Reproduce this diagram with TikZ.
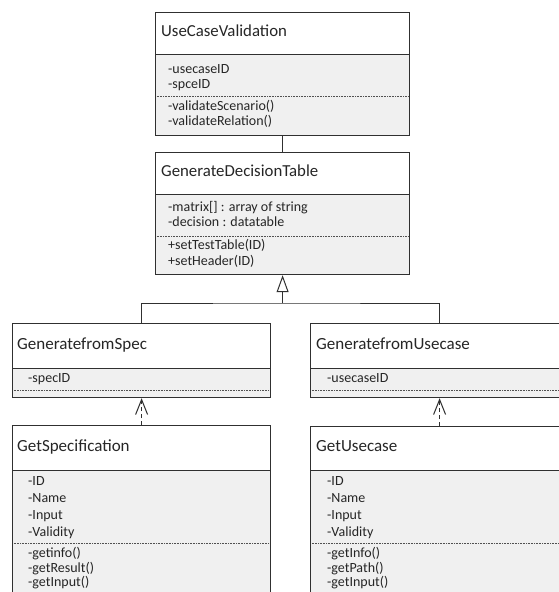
\documentclass[tikz,border=0pt]{standalone}
\usepackage{fontspec}
\setmainfont{Carlito}
\usetikzlibrary{arrows.meta}
\definecolor{linec}{HTML}{303030}
\definecolor{bodyc}{HTML}{F0F0F0}
\definecolor{dotc}{HTML}{505050}
% #1 name, #2 x1, #3 y1, #4 x2, #5 y2, #6 header y, #7 dotted y
\newcommand\umlbox[7]{%
  \fill[white] (#2,#3) rectangle (#4,#6);
  \fill[bodyc] (#2,#6) rectangle (#4,#5);
  \draw[hdrline] (#2,#6) -- (#4,#6);
  \draw[dotline] (#2,#7) -- (#4,#7);
  \node[classbox, minimum width={#4pt-#2pt}, minimum height={#5pt-#3pt}] (#1) at (#2,#3) {};
}
\begin{document}
\begin{tikzpicture}[x=1pt,y=-1pt,
  classbox/.style={draw=linec, line width=1.2pt, rectangle, inner sep=0pt, anchor=north west},
  hdrline/.style={draw=linec, line width=1pt},
  dotline/.style={draw=dotc, line width=0.6pt, dash pattern=on 1pt off 0.6pt},
  ttlA/.style={anchor=west, inner sep=0pt, font=\fontsize{16.8}{18}\selectfont, text height=0.8em, text depth=0.16em, text=black!85},
  memA/.style={anchor=west, inner sep=0pt, font=\fontsize{14}{16}\selectfont, text height=0.8em, text depth=0.16em, text=black!85},
  ttlB/.style={anchor=west, inner sep=0pt, font=\fontsize{17}{19}\selectfont, text height=0.8em, text depth=0.16em, text=black!85},
  memB/.style={anchor=west, inner sep=0pt, font=\fontsize{14}{16}\selectfont, text height=0.8em, text depth=0.16em, text=black!85},
  conn/.style={draw=linec, line width=1pt},
  dep/.style={draw=linec, line width=1pt, dash pattern=on 4pt off 3pt, -{Straight Barb[length=15pt,width=12pt,line width=1pt]}},
  gen/.style={draw=linec, line width=1pt, -{Triangle[open,length=17pt,width=12pt,line width=1pt,fill=white]}}
]
\useasboundingbox[fill=white] (0,0) rectangle (558,592);

% UseCaseValidation
\umlbox{ucv}{155}{12}{409}{135}{54}{96}
\node[ttlA] (ucvT) at (161,33) {UseCaseValidation};
\node[memA] (ucv1) at (168,70) {-usecaseID};
\node[memA] (ucv2) at (168,85) {-spceID};
\node[memA] (ucv3) at (168,107) {-validateScenario()};
\node[memA] (ucv4) at (168,122) {-validateRelation()};

% GenerateDecisionTable
\umlbox{gdt}{155}{152}{409}{274}{194}{236}
\node[ttlA] (gdtT) at (161,173) {GenerateDecisionTable};
\node[memA] (gdt1) at (168,208) {-matrix[] : array of string};
\node[memA] (gdt2) at (168,223) {-decision : datatable};
\node[memA] (gdt3) at (168,246) {+setTestTable(ID)};
\node[memA] (gdt4) at (168,262) {+setHeader(ID)};

% GeneratefromSpec
\umlbox{gfs}{12}{323}{270}{397}{368}{390}
\node[ttlB] (gfsT) at (17,346) {GeneratefromSpec};
\node[memB] (gfs1) at (28,379) {-specID};

% GeneratefromUsecase
\umlbox{gfu}{310}{323}{568}{397}{368}{390}
\node[ttlB] (gfuT) at (316,346) {GeneratefromUsecase};
\node[memB] (gfu1) at (327,379) {-usecaseID};

% GetSpecification
\umlbox{gs}{12}{425}{270}{640}{470}{543}
\node[ttlB] (gsT) at (17,448) {GetSpecification};
\node[memB] (gs1) at (28,482) {-ID};
\node[memB] (gs2) at (28,499) {-Name};
\node[memB] (gs3) at (28,516) {-Input};
\node[memB] (gs4) at (28,533) {-Validity};
\node[memB] (gs5) at (28,554) {-getinfo()};
\node[memB] (gs6) at (28,569) {-getResult()};
\node[memB] (gs7) at (28,583.5) {-getInput()};

% GetUsecase
\umlbox{gu}{310}{426}{568}{640}{470}{543}
\node[ttlB] (guT) at (316,448) {GetUsecase};
\node[memB] (gu1) at (327,482) {-ID};
\node[memB] (gu2) at (327,499) {-Name};
\node[memB] (gu3) at (327,516) {-Input};
\node[memB] (gu4) at (327,533) {-Validity};
\node[memB] (gu5) at (327,554) {-getInfo()};
\node[memB] (gu6) at (327,569) {-getPath()};
\node[memB] (gu7) at (327,583.5) {-getInput()};

% connectors
\draw[conn] (ucv.south) -- (gdt.north);
\coordinate (j) at (gdt.south |- 0,303);
\draw[conn] (gfs.north) |- (j) -| (gfu.north);
\draw[gen] (j) -- (gdt.south);
\draw[dep] (gs.north -| gfs.north) -- (gfs.south);
\draw[dep] (gu.north -| gfu.north) -- (gfu.south);
\end{tikzpicture}
\end{document}
